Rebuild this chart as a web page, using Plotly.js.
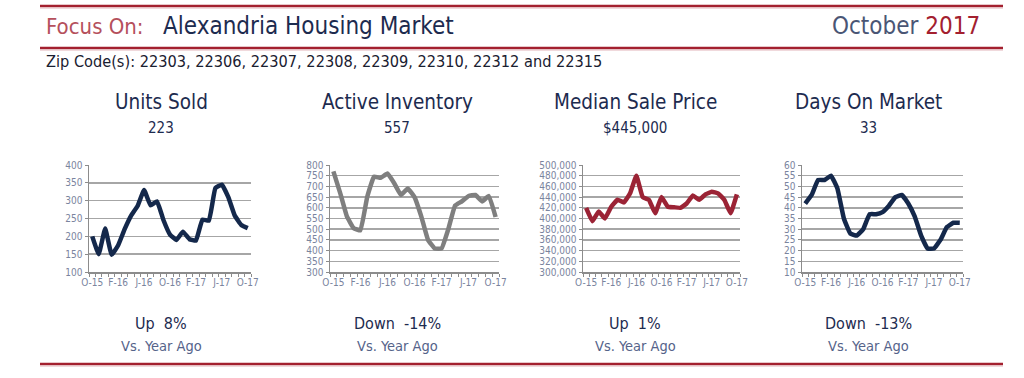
<!DOCTYPE html>
<html><head><meta charset="utf-8">
<script src="https://cdn.plot.ly/plotly-3.0.1.min.js"></script>
<style>html,body{margin:0;padding:0;background:#fff}#c{width:1024px;height:378px}</style>
</head><body><div id="c"></div>
<script>
// ---- data ----
const months = ['O-15','N-15','D-15','J-16','F-16','M-16','A-16','M-16','J-16','J-16','A-16','S-16',
  'O-16','N-16','D-16','J-17','F-17','M-17','A-17','M-17','J-17','J-17','A-17','S-17','O-17'];
const tickLabels = ['O-15','F-16','J-16','O-16','F-17','J-17','O-17'];
const unitsSold = [200,150,222,148,175,220,258,285,330,287,298,245,205,190,213,192,188,247,244,335,345,310,258,232,223];
const activeInventory = [770,670,560,505,495,650,745,740,760,715,660,690,650,560,450,410,410,500,610,630,655,660,630,655,557];
const medianPrice = [420000,395000,413000,400000,422000,435000,430000,447000,480000,440000,435000,410000,440000,422000,421000,420000,428000,443000,435000,445000,450000,447000,435000,410000,445000];
const daysOnMarket = [42,46,53,53,55,49,35,28,27,30,37,37,38,41,45,46,42,36,27,21,21,25,31,33,33];
const titles = ['Units Sold','Active Inventory','Median Sale Price','Days On Market'];
const currentValues = ['223','557','$445,000','33'];
const changes = ['Up  8%','Down  -14%','Up  1%','Down  -13%'];
const compareLabel = 'Vs. Year Ago';

// ---- layout helpers ----
const W = 1024, H = 378;
const px = x => x / W, py = y => 1 - y / H;
const FONT = '"Liberation Sans Narrow","DejaVu Sans Condensed","Liberation Sans",sans-serif';
const NAVY = '#1d2b4f', RED = '#a3202f';

const series = [unitsSold, activeInventory, medianPrice, daysOnMarket];
const colors = ['#14284b','#7f7f7f','#9b2335','#14284b'];
const xDom = [[89,251],[330,499],[583,740],[802,963]];
const yRanges = [[100,400,50],[300,800,50],[300000,500000,20000],[10,60,5]];
const centers = [161,397,635,868];
const xIdx = months.map((m,i)=>i);
const tickIdx = tickLabels.map((_,k)=>k*4);

const traces = series.map((s,i)=>({
  x: xIdx, y: s, type:'scatter', mode:'lines',
  line:{color:colors[i], width:4.5, shape:'spline', smoothing:0.3},
  xaxis: i===0?'x':'x'+(i+1), yaxis: i===0?'y':'y'+(i+1), hoverinfo:'skip'
}));

const layout = {
  width: W, height: H, margin:{l:0,r:0,t:0,b:0}, showlegend:false,
  paper_bgcolor:'#fff', plot_bgcolor:'#fff', font:{family:FONT},
  annotations: [], shapes: []
};
for (let i=0;i<4;i++){
  const sx = i===0?'':String(i+1);
  layout['xaxis'+sx] = {
    domain:[px(xDom[i][0]), px(xDom[i][1])], anchor: 'y'+sx,
    range:[-0.5,24.5], tickmode:'array', tickvals: tickIdx, ticktext: tickLabels,
    ticks:'', showgrid:false, zeroline:false, showline:true, linecolor:'#8c8c8c', linewidth:1.5,
    tickfont:{size:10, color:'#7a849e', family:FONT}, fixedrange:true,
    minor:{ticks:'outside', tick0:-0.5, dtick:1, ticklen:3, tickcolor:'#8c8c8c', showgrid:false}
  };
  layout['yaxis'+sx] = {
    domain:[py(272), py(165)], anchor: 'x'+sx,
    range:[yRanges[i][0], yRanges[i][1]], dtick: yRanges[i][2], tick0: yRanges[i][0],
    showgrid:true, gridcolor:'#a6a6a6', gridwidth:1.5, zeroline:false,
    showline:true, linecolor:'#8c8c8c', linewidth:1.5, ticks:'outside', ticklen:3, tickcolor:'#8c8c8c',
    tickfont:{size:10, color:'#7a849e', family:FONT}, tickformat: i===2?',':'', fixedrange:true
  };
  const ann = (text, x, y, size, color) => layout.annotations.push({
    text, x:px(x), y:py(y), xref:'paper', yref:'paper', showarrow:false,
    xanchor:'center', yanchor:'middle', font:{size, color, family:FONT}
  });
  ann(titles[i], centers[i], 102, 20.5, NAVY);
  ann(currentValues[i], centers[i], 128, 15, NAVY);
  ann(changes[i], centers[i], 323, 16, NAVY);
  ann(compareLabel, centers[i], 346, 14.5, '#55638a');
}
const left = (text, x, y, size, color) => layout.annotations.push({
  text, x:px(x), y:py(y), xref:'paper', yref:'paper', showarrow:false,
  xanchor:'left', yanchor:'middle', font:{size, color, family:FONT}
});
left('Focus On:', 44, 26, 22, '#b5505c');
left('Alexandria Housing Market', 161, 26, 24, NAVY);
layout.annotations.push({text:'October <span style="color:#a3202f">2017</span>', x:px(982), y:py(26),
  xref:'paper', yref:'paper', showarrow:false, xanchor:'right', yanchor:'middle',
  font:{size:24, color:'#4a5675', family:FONT}});
left('Zip Code(s): 22303, 22306, 22307, 22308, 22309, 22310, 22312 and 22315', 44, 62, 16.2, '#1a2030');

[6, 48, 364].forEach(y=>{
  layout.shapes.push({type:'line', xref:'paper', yref:'paper', x0:px(40), x1:px(1003), y0:py(y), y1:py(y), line:{color:RED, width:2.5}});
  layout.shapes.push({type:'line', xref:'paper', yref:'paper', x0:px(40), x1:px(1003), y0:py(y+2), y1:py(y+2), line:{color:'#e2b3b9', width:1}});
});

Plotly.newPlot('c', traces, layout, {displayModeBar:false, staticPlot:true});
</script></body></html>
